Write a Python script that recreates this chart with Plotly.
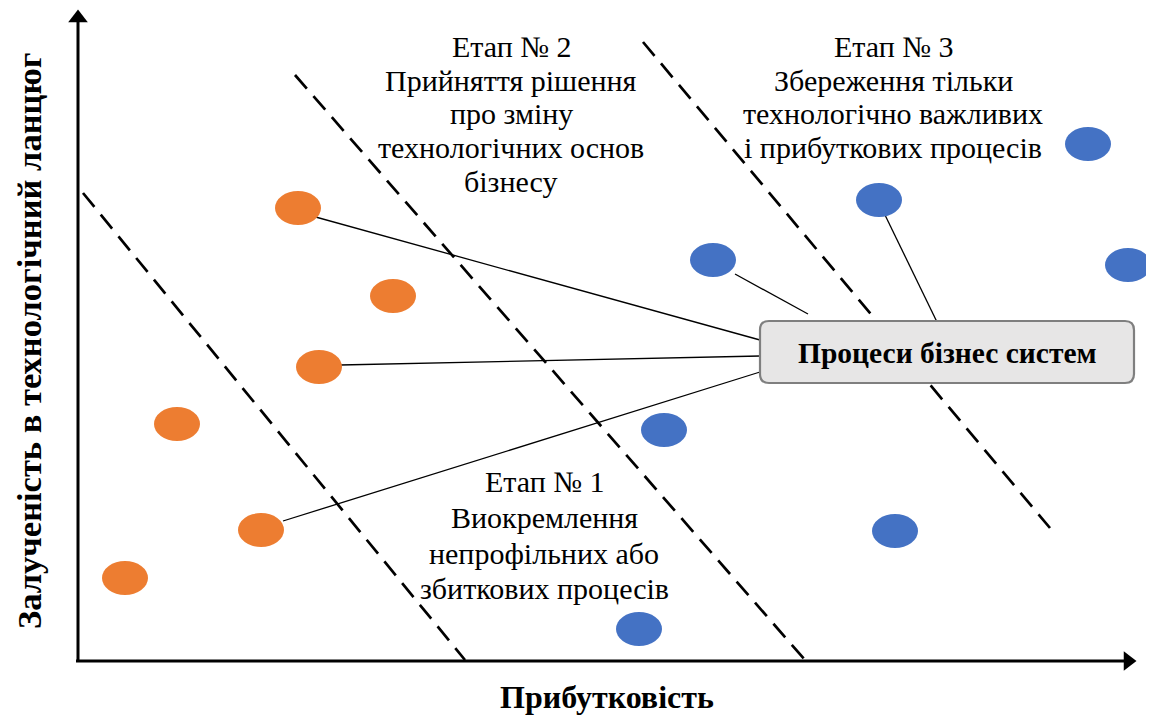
import plotly.graph_objects as go

W, H = 1154, 716
PAGE_OFFSET = 8  # default body margin of the html page

# ellipse centres (picture coordinates, y grows downward)
orange_x = [298, 393, 319, 177, 261, 125]
orange_y = [208, 296, 367, 424, 530, 578]
blue_x = [1088, 879, 713, 1128, 664, 895, 639]
blue_y = [144, 200, 260, 265, 430, 531, 629]

# dashed stage borders: start / end points
dash_x0 = [83, 295, 643]
dash_y0 = [193, 75, 42]
dash_x1 = [465, 805, 1050]
dash_y1 = [660, 660, 528]

# connectors from processes to the central box
conn_x0 = [312, 340, 283, 735, 885]
conn_y0 = [216, 365, 521, 274, 215]
conn_x1 = [760, 760, 760, 808, 937]
conn_y1 = [340, 356, 372, 314, 322]

box = dict(x0=760, x1=1134, y0=321, y1=383)
box_label = "Процеси бізнес систем"

stage2_lines = ["Етап № 2", "Прийняття рішення", "про зміну", "технологічних основ", "бізнесу"]
stage2_x, stage2_y = 511, [46, 80, 113, 147, 181]
stage3_lines = ["Етап № 3", "Збереження тільки", "технологічно важливих", "і прибуткових процесів"]
stage3_x, stage3_y = 893, [46, 80, 113, 147]
stage1_lines = ["Етап № 1", "Виокремлення", "непрофільних або", "збиткових процесів"]
stage1_x, stage1_y = 544, [481, 517, 553, 588]

x_title = "Прибутковість"
y_title = "Залученість в технологічний ланцюг"

ORANGE = "#ED7D31"
BLUE = "#4472C4"
SERIF = "Liberation Serif, Times New Roman, serif"

fig = go.Figure()

# axes with arrows
fig.add_trace(go.Scatter(x=[78, 78], y=[662, 20], mode="lines",
                         line=dict(color="black", width=3), hoverinfo="skip"))
fig.add_trace(go.Scatter(x=[76, 1125], y=[661, 661], mode="lines",
                         line=dict(color="black", width=3), hoverinfo="skip"))
fig.add_trace(go.Scatter(x=[78], y=[18], mode="markers",
                         marker=dict(symbol="triangle-up", size=17, color="black"), hoverinfo="skip"))
fig.add_trace(go.Scatter(x=[1128], y=[661], mode="markers",
                         marker=dict(symbol="triangle-right", size=17, color="black"), hoverinfo="skip"))

# dashed borders
for i in range(len(dash_x0)):
    fig.add_trace(go.Scatter(x=[dash_x0[i], dash_x1[i]], y=[dash_y0[i], dash_y1[i]], mode="lines",
                             line=dict(color="black", width=2.7, dash="18px,10px"), hoverinfo="skip"))

# connectors
for i in range(len(conn_x0)):
    fig.add_trace(go.Scatter(x=[conn_x0[i], conn_x1[i]], y=[conn_y0[i], conn_y1[i]], mode="lines",
                             line=dict(color="black", width=1.3), hoverinfo="skip"))

shapes = []
RX, RY = 23, 17
for cx, cy in zip(orange_x, orange_y):
    shapes.append(dict(type="circle", xref="x", yref="y", x0=cx - RX, x1=cx + RX, y0=cy - RY, y1=cy + RY,
                       fillcolor=ORANGE, line=dict(width=0), layer="above"))
for cx, cy in zip(blue_x, blue_y):
    shapes.append(dict(type="circle", xref="x", yref="y", x0=cx - RX, x1=cx + RX, y0=cy - RY, y1=cy + RY,
                       fillcolor=BLUE, line=dict(width=0), layer="above"))

# rounded box
r = 9
x0, x1, y0, y1 = box["x0"], box["x1"], box["y0"], box["y1"]
path = (f"M {x0 + r},{y0} L {x1 - r},{y0} Q {x1},{y0} {x1},{y0 + r} "
        f"L {x1},{y1 - r} Q {x1},{y1} {x1 - r},{y1} L {x0 + r},{y1} Q {x0},{y1} {x0},{y1 - r} "
        f"L {x0},{y0 + r} Q {x0},{y0} {x0 + r},{y0} Z")
shapes.append(dict(type="path", xref="x", yref="y", path=path, fillcolor="#E7E6E6",
                   line=dict(color="#7F7F7F", width=2.2), layer="above"))

annotations = [dict(x=(x0 + x1) / 2, y=(y0 + y1) / 2 + 1, text=f"<b>{box_label}</b>", showarrow=False,
                    font=dict(family=SERIF, size=29.5, color="black"))]

for lines, sx, ys in [(stage2_lines, stage2_x, stage2_y), (stage3_lines, stage3_x, stage3_y),
                      (stage1_lines, stage1_x, stage1_y)]:
    for t, yy in zip(lines, ys):
        annotations.append(dict(x=sx, y=yy, text=t, showarrow=False,
                                font=dict(family=SERIF, size=30, color="black")))

annotations.append(dict(x=607, y=697, text=f"<b>{x_title}</b>", showarrow=False,
                        font=dict(family=SERIF, size=32, color="black")))
annotations.append(dict(x=29, y=341, text=f"<b>{y_title}</b>", showarrow=False, textangle=-90,
                        font=dict(family=SERIF, size=34.5, color="black")))

fig.update_layout(
    width=W, height=H,
    margin=dict(l=0, r=0, t=0, b=0),
    paper_bgcolor="white", plot_bgcolor="white",
    showlegend=False,
    xaxis=dict(range=[PAGE_OFFSET, W + PAGE_OFFSET], visible=False, fixedrange=True),
    yaxis=dict(range=[H + PAGE_OFFSET, PAGE_OFFSET], visible=False, fixedrange=True),
    shapes=shapes,
    annotations=annotations,
)

fig.write_html("out.html")
